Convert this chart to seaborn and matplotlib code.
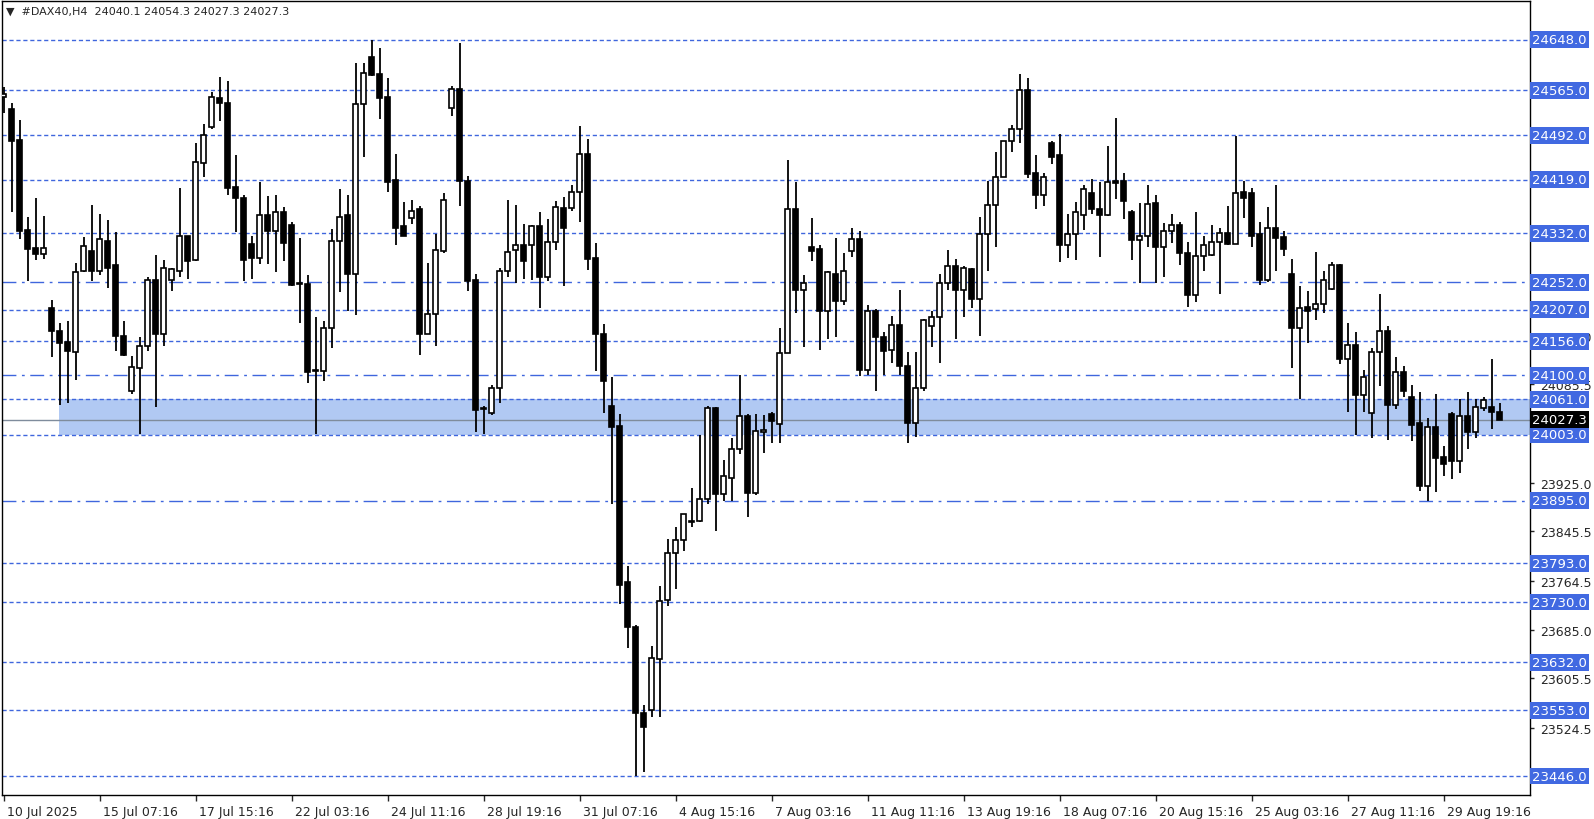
import numpy as np
import matplotlib
matplotlib.use("Agg")
import matplotlib.pyplot as plt
import matplotlib.transforms as mtransforms
import seaborn as sns

# H4 candles: open, high, low, close
opens = [24555, 24535, 24484, 24338, 24308, 24298, 24210, 24173, 24155, 24138,
         24270, 24303, 24271, 24320, 24280, 24165, 24074, 24112, 24148, 24255,
         24167, 24255, 24271, 24327, 24288, 24447, 24505, 24553, 24545, 24407,
         24390, 24314, 24291, 24362, 24336, 24367, 24346, 24249, 24249, 24107,
         24107, 24177, 24320, 24361, 24265, 24543, 24620, 24592, 24555, 24419,
         24343, 24357, 24371, 24167, 24200, 24303, 24537, 24567, 24417, 24256,
         24045, 24039, 24079, 24270, 24304, 24312, 24312, 24343, 24261, 24318,
         24373, 24373, 24400, 24462, 24292, 24168, 24050, 24017, 23762, 23690,
         23549, 23553, 23637, 23733, 23810, 23831, 23860, 23863, 23898, 24046,
         23906, 23932, 23979, 24034, 23908, 24008, 24037, 24020, 24136, 24371,
         24240, 24310, 24306, 24205, 24266, 24221, 24303, 24323, 24109, 24205,
         24163, 24142, 24182, 24115, 24022, 24080, 24180, 24196, 24250, 24278,
         24240, 24273, 24225, 24331, 24378, 24424, 24482, 24502, 24565, 24430,
         24394, 24479, 24459, 24313, 24331, 24362, 24398, 24372, 24362, 24417,
         24417, 24366, 24321, 24328, 24381, 24310, 24336, 24346, 24300, 24231,
         24295, 24296, 24318, 24333, 24315, 24400, 24398, 24330, 24256, 24340,
         24326, 24266, 24178, 24211, 24208, 24216, 24241, 24280, 24127, 24150,
         24068, 24038, 24138, 24173, 24052, 24105, 24064, 24022, 23919, 24015,
         23966, 24037, 23960, 24033, 24008, 24046, 24049, 24040.1]
highs = [24570, 24545, 24517, 24359, 24389, 24360, 24223, 24185, 24188, 24283,
         24326, 24378, 24363, 24354, 24334, 24188, 24131, 24163, 24260, 24296,
         24288, 24276, 24405, 24328, 24480, 24510, 24563, 24587, 24580, 24459,
         24395, 24328, 24415, 24392, 24395, 24375, 24350, 24324, 24263, 24195,
         24188, 24339, 24404, 24395, 24610, 24610, 24648, 24635, 24585, 24462,
         24383, 24386, 24376, 24283, 24331, 24397, 24572, 24643, 24425, 24265,
         24050, 24085, 24276, 24387, 24378, 24347, 24345, 24366, 24355, 24385,
         24391, 24410, 24507, 24485, 24316, 24183, 24097, 24037, 23788, 23693,
         23562, 23658, 23756, 23833, 23853, 23873, 23916, 24002, 24050, 24048,
         23962, 23997, 24100, 24037, 24037, 24035, 24040, 24177, 24452, 24416,
         24263, 24356, 24313, 24271, 24324, 24300, 24340, 24336, 24215, 24208,
         24170, 24197, 24240, 24138, 24138, 24192, 24205, 24265, 24305, 24290,
         24278, 24275, 24358, 24418, 24465, 24482, 24508, 24592, 24585, 24460,
         24430, 24482, 24494, 24363, 24383, 24411, 24420, 24415, 24475, 24520,
         24430, 24370, 24381, 24410, 24395, 24348, 24364, 24350, 24318, 24367,
         24328, 24345, 24340, 24376, 24490, 24418, 24405, 24350, 24374, 24411,
         24336, 24290, 24246, 24238, 24301, 24270, 24285, 24281, 24185, 24170,
         24108, 24145, 24233, 24180, 24130, 24115, 24085, 24072, 24030, 24070,
         23985, 24040, 24062, 24072, 24062, 24065, 24126, 24054.3]
lows = [24528, 24366, 24323, 24254, 24288, 24290, 24130, 24052, 24055, 24093,
        24268, 24254, 24263, 24243, 24140, 24131, 24070, 24005, 24140, 24049,
        24148, 24238, 24261, 24258, 24286, 24424, 24502, 24515, 24395, 24334,
        24254, 24258, 24281, 24281, 24268, 24287, 24245, 24186, 24088, 24005,
        24090, 24145, 24236, 24205, 24198, 24457, 24588, 24518, 24399, 24313,
        24328, 24347, 24133, 24167, 24148, 24300, 24523, 24376, 24238, 24007,
        24005, 24035, 24055, 24260, 24251, 24258, 24256, 24210, 24254, 24304,
        24246, 24368, 24350, 24272, 24107, 24038, 23890, 23727, 23655, 23446,
        23453, 23543, 23542, 23723, 23751, 23813, 23853, 23860, 23890, 23846,
        23895, 23895, 23972, 23868, 23905, 23974, 23990, 23990, 24136, 24202,
        24147, 24286, 24142, 24160, 24162, 24215, 24293, 24099, 24101, 24075,
        24100, 24120, 24100, 23990, 24000, 24075, 24147, 24120, 24240, 24160,
        24195, 24210, 24164, 24270, 24310, 24424, 24464, 24479, 24422, 24372,
        24376, 24445, 24285, 24291, 24288, 24338, 24364, 24293, 24360, 24388,
        24355, 24288, 24250, 24310, 24250, 24260, 24316, 24280, 24212, 24220,
        24270, 24295, 24233, 24313, 24315, 24357, 24310, 24248, 24252, 24270,
        24295, 24112, 24062, 24153, 24191, 24201, 24240, 24118, 24040, 24002,
        24040, 23997, 24083, 23995, 24045, 24065, 23993, 23911, 23895, 23910,
        23935, 23930, 23940, 23980, 23998, 24042, 24012, 24027.3]
closes = [24560, 24482, 24336, 24306, 24298, 24308, 24172, 24153, 24140, 24268,
          24311, 24271, 24322, 24276, 24165, 24133, 24114, 24148, 24255, 24167,
          24276, 24273, 24327, 24286, 24449, 24493, 24555, 24545, 24405, 24389,
          24288, 24291, 24362, 24336, 24366, 24316, 24248, 24249, 24105, 24107,
          24178, 24320, 24358, 24265, 24543, 24593, 24590, 24552, 24416, 24341,
          24328, 24369, 24167, 24200, 24305, 24386, 24567, 24417, 24254, 24043,
          24045, 24079, 24270, 24301, 24312, 24287, 24343, 24261, 24318, 24375,
          24341, 24400, 24462, 24290, 24168, 24090, 24015, 23758, 23690, 23549,
          23526, 23638, 23731, 23810, 23831, 23873, 23863, 23898, 24046, 23906,
          23936, 23979, 24034, 23908, 24009, 24010, 24025, 24136, 24371, 24240,
          24250, 24303, 24205, 24268, 24221, 24271, 24323, 24109, 24205, 24163,
          24140, 24182, 24115, 24022, 24080, 24190, 24196, 24250, 24278, 24240,
          24275, 24225, 24331, 24378, 24424, 24482, 24502, 24565, 24429, 24394,
          24424, 24457, 24313, 24331, 24366, 24404, 24372, 24362, 24415, 24414,
          24384, 24321, 24328, 24379, 24310, 24336, 24346, 24299, 24231, 24295,
          24313, 24318, 24333, 24315, 24398, 24390, 24328, 24256, 24340, 24324,
          24306, 24178, 24210, 24205, 24216, 24255, 24280, 24127, 24150, 24068,
          24098, 24138, 24173, 24052, 24105, 24074, 24019, 23919, 24015, 23965,
          23955, 23960, 24033, 24008, 24048, 24059, 24040, 24027.3]

date_labels = ["10 Jul 2025", "15 Jul 07:16", "17 Jul 15:16", "22 Jul 03:16",
               "24 Jul 11:16", "28 Jul 19:16", "31 Jul 07:16", "4 Aug 15:16",
               "7 Aug 03:16", "11 Aug 11:16", "13 Aug 19:16", "18 Aug 07:16",
               "20 Aug 15:16", "25 Aug 03:16", "27 Aug 11:16", "29 Aug 19:16"]
dashed_levels = [24648.0, 24565.0, 24492.0, 24419.0, 24332.0, 24207.0, 24156.0,
                 24061.0, 24003.0, 23793.0, 23730.0, 23632.0, 23553.0, 23446.0]
dashdot_levels = [24252.0, 24100.0, 23895.0]
price_ticks = [23524.5, 23605.5, 23685.0, 23764.5, 23845.5, 23925.0,
               24085.5, 24165.0]
zone_low, zone_high = 24003.0, 24061.0
last_price = 24027.3

sns.set_style("white")
plt.rcParams["font.family"] = ["DejaVu Sans"]

W, H = 1594, 820
fig = plt.figure(figsize=(W / 100, H / 100), dpi=100)
ax = fig.add_axes([2 / W, 24 / H, 1528 / W, 794 / H])

df_o = np.array(opens, float)
df_c = np.array(closes, float)
idx = np.arange(len(opens))
blue = "#3f66dd"

# zone and current price line
ax.fill_between([6.9, 200], zone_low, zone_high, color="#b1c9f3", lw=0, zorder=0)
ax.axhline(last_price, color="#7f8c9c", lw=1, zorder=1)
for lv in dashed_levels:
    ax.axhline(lv, color=blue, lw=1, ls=(0, (3, 2)), zorder=1)
for lv in dashdot_levels:
    ax.axhline(lv, color=blue, lw=1, ls=(0, (10, 4, 2, 4)), zorder=1)

# candles
ax.vlines(idx, lows, highs, color="black", lw=1.3, zorder=2)
up = df_c >= df_o
body_bottom = np.minimum(df_o, df_c)
body_h = np.maximum(np.abs(df_c - df_o), 1.0)
ax.bar(idx[up], body_h[up], bottom=body_bottom[up], width=0.6,
       color="white", edgecolor="black", lw=1.2, zorder=3)
ax.bar(idx[~up], body_h[~up], bottom=body_bottom[~up], width=0.6,
       color="black", edgecolor="black", lw=1.2, zorder=3)

ax.set_xlim(-0.21, 190.8)
ax.set_ylim(23415, 24711)

# right price axis
ax.yaxis.tick_right()
ax.set_yticks(price_ticks)
ax.set_yticklabels([f"{p:.1f}" for p in price_ticks], fontsize=9)
ax.tick_params(axis="y", length=3, width=1, pad=4, right=True)
ax.set_xticks(np.arange(0, len(date_labels) * 12, 12))
ax.set_xticklabels(date_labels, fontsize=9, ha="left")
ax.tick_params(axis="x", length=4, width=1, pad=3, bottom=True)
offset = mtransforms.ScaledTranslation(3 / 100, 0, fig.dpi_scale_trans)
for lbl in ax.get_xticklabels():
    lbl.set_transform(lbl.get_transform() + offset)
for s in ax.spines.values():
    s.set_color("black")
    s.set_linewidth(1)

# level boxes
tr = mtransforms.blended_transform_factory(ax.transAxes, ax.transData)
for lv in dashed_levels + dashdot_levels:
    ax.text(1.0015, lv, f"{lv:.1f}", transform=tr, fontsize=9.5, color="white",
            va="center", ha="left", clip_on=False, zorder=5,
            bbox=dict(boxstyle="square,pad=0.15", fc="#4169e1", ec="none"))
ax.text(1.0015, last_price, f"{last_price:.1f}", transform=tr, fontsize=9.5,
        color="white", va="center", ha="left", clip_on=False, zorder=6,
        bbox=dict(boxstyle="square,pad=0.15", fc="black", ec="none"))

fig.text(6 / W, 1 - 12 / H, "▼  #DAX40,H4  24040.1 24054.3 24027.3 24027.3",
         fontsize=8, va="center", ha="left")

fig.savefig("out.png", dpi=100)
